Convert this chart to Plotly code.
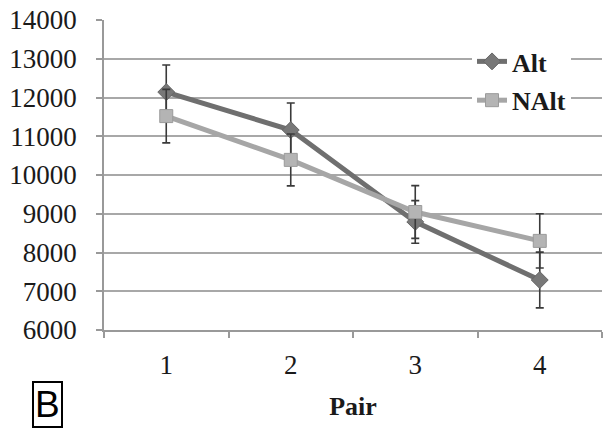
import plotly.graph_objects as go

pairs = ["1", "2", "3", "4"]
alt = [12140, 11160, 8790, 7290]
alt_err = [700, 700, 550, 720]
nalt = [11520, 10390, 9045, 8300]
nalt_err = [690, 670, 680, 700]
yticks = [6000, 7000, 8000, 9000, 10000, 11000, 12000, 13000, 14000]
ytick_text = ["6000", "7000", "8000", "9000", "10000", "11000", "12000", "13000", "14000"]

fig = go.Figure()
fig.add_trace(go.Scatter(
    x=pairs, y=alt, name="Alt", mode="lines+markers", legendgroup="a",
    line=dict(color="#6f6f6f", width=5),
    marker=dict(symbol="diamond", size=13, color="#787878", line=dict(color="#666", width=1)),
    error_y=dict(type="data", array=alt_err, color="#3a3a3a", thickness=1.6, width=4),
))
fig.add_trace(go.Scatter(
    x=pairs, y=nalt, name="NAlt", mode="lines+markers", legendgroup="b",
    line=dict(color="#a6a6a6", width=5),
    marker=dict(symbol="square", size=13, color="#b4b4b4", line=dict(color="#9a9a9a", width=1)),
    error_y=dict(type="data", array=nalt_err, color="#3a3a3a", thickness=1.6, width=4),
))

serif = "Liberation Serif"
fig.update_layout(
    width=605, height=428,
    margin=dict(l=104, r=3, t=20, b=98),
    paper_bgcolor="white", plot_bgcolor="white",
    font=dict(family=serif),
    showlegend=True,
    legend=dict(
        x=0.739, y=0.942, xanchor="left", yanchor="top",
        bgcolor="white", font=dict(family=serif, size=26, color="#1a1a1a", weight="bold"),
        traceorder="grouped", tracegroupgap=2,
    ),
    xaxis=dict(
        type="category", range=[-0.5, 3.5], tickson="boundaries", ticks="outside", ticklen=6,
        tickcolor="#999", tickwidth=1.5, showline=True, linecolor="#999", linewidth=1.5,
        showgrid=False, tickfont=dict(family=serif, size=27, color="#1a1a1a"),
        ticklabelstandoff=10,
        title=dict(text="<b>Pair</b>", font=dict(family=serif, size=26, color="#1a1a1a"), standoff=18),
    ),
    yaxis=dict(
        range=[6000, 14000], tickvals=yticks, ticktext=ytick_text, ticks="outside", ticklen=6,
        tickcolor="#999", tickwidth=1.5, showline=True, linecolor="#999", linewidth=1.5,
        showgrid=True, gridcolor="#a8a8a8", gridwidth=1.5, zeroline=False,
        tickfont=dict(family=serif, size=27, color="#1a1a1a"),
        ticklabelstandoff=14,
    ),
)
fig.add_annotation(
    text="B", xref="paper", yref="paper", x=(47.5 - 104) / 498, y=(330 - 404) / 310,
    xanchor="center", yanchor="middle", showarrow=False,
    font=dict(family="Liberation Sans", size=37, color="black"),
    bordercolor="black", borderwidth=2, borderpad=1, bgcolor="white",
)
fig.write_html(
    "out.html",
    config={"displayModeBar": False},
    post_script="document.body.style.margin='0';document.body.style.overflow='hidden';",
)
